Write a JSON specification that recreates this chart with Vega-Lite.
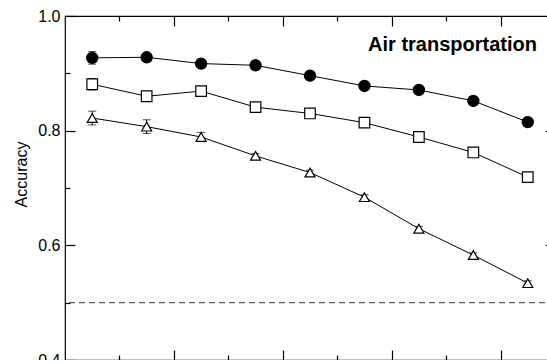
{
  "$schema": "https://vega.github.io/schema/vega-lite/v6.json",
  "width": 490,
  "height": 344,
  "autosize": {"type": "none"},
  "padding": {"left": 65, "top": 16, "right": 0, "bottom": 0},
  "background": "white",
  "config": {
    "font": "Liberation Sans",
    "view": {"stroke": "black", "strokeWidth": 1.2},
    "axis": {"grid": false, "domain": false, "tickColor": "black", "labelColor": "black", "titleColor": "black", "tickWidth": 1.2}
  },
  "datasets": {
    "pts": [
      {"i": 1, "s": "c", "acc": 0.927, "err": 0.011},
      {"i": 2, "s": "c", "acc": 0.928, "err": 0.004},
      {"i": 3, "s": "c", "acc": 0.917, "err": 0.003},
      {"i": 4, "s": "c", "acc": 0.914, "err": 0.003},
      {"i": 5, "s": "c", "acc": 0.896, "err": 0.003},
      {"i": 6, "s": "c", "acc": 0.878, "err": 0.003},
      {"i": 7, "s": "c", "acc": 0.871, "err": 0.003},
      {"i": 8, "s": "c", "acc": 0.852, "err": 0.003},
      {"i": 9, "s": "c", "acc": 0.815, "err": 0.003},
      {"i": 1, "s": "s", "acc": 0.881, "err": 0.010},
      {"i": 2, "s": "s", "acc": 0.860, "err": 0.004},
      {"i": 3, "s": "s", "acc": 0.869, "err": 0.004},
      {"i": 4, "s": "s", "acc": 0.841, "err": 0.003},
      {"i": 5, "s": "s", "acc": 0.830, "err": 0.003},
      {"i": 6, "s": "s", "acc": 0.814, "err": 0.003},
      {"i": 7, "s": "s", "acc": 0.789, "err": 0.003},
      {"i": 8, "s": "s", "acc": 0.762, "err": 0.003},
      {"i": 9, "s": "s", "acc": 0.719, "err": 0.003},
      {"i": 1, "s": "t", "acc": 0.822, "err": 0.012},
      {"i": 2, "s": "t", "acc": 0.807, "err": 0.012},
      {"i": 3, "s": "t", "acc": 0.789, "err": 0.008},
      {"i": 4, "s": "t", "acc": 0.756, "err": 0.004},
      {"i": 5, "s": "t", "acc": 0.727, "err": 0.004},
      {"i": 6, "s": "t", "acc": 0.684, "err": 0.004},
      {"i": 7, "s": "t", "acc": 0.629, "err": 0.004},
      {"i": 8, "s": "t", "acc": 0.583, "err": 0.004},
      {"i": 9, "s": "t", "acc": 0.534, "err": 0.004}
    ]
  },
  "resolve": {"axis": {"x": "independent", "y": "independent"}},
  "layer": [
    {
      "data": {"name": "pts"},
      "mark": {"type": "line", "color": "black", "strokeWidth": 1},
      "encoding": {
        "x": {"field": "i", "type": "quantitative", "scale": {"domain": [0.5, 9.5], "nice": false, "zero": false},
          "axis": {"orient": "bottom", "title": null, "labels": false, "values": [1.5, 2.5, 3.5, 4.5, 5.5, 6.5, 7.5, 8.5],
            "tickSize": {"condition": {"test": "abs((datum.value - 0.5) % 2) < 0.01", "value": -10}, "value": -5}}},
        "y": {"field": "acc", "type": "quantitative", "scale": {"domain": [0.4, 1.0], "nice": false, "zero": false},
          "axis": {"orient": "left", "title": "Accuracy", "values": [0.4, 0.5, 0.6, 0.7, 0.8, 0.9, 1.0],
            "labelExpr": "round(datum.value * 10) % 2 == 0 ? format(datum.value, '.1f') : ''",
            "labelFontSize": 16, "labelPadding": 15,
            "tickSize": {"condition": {"test": "round(datum.value * 10) % 2 == 0", "value": -10}, "value": -5},
            "titleFontSize": 16, "titleFontWeight": "normal", "titleAngle": -90, "titleX": -38.5, "titleY": 158, "titleAlign": "center", "titleBaseline": "alphabetic"}},
        "detail": {"field": "s"}
      }
    },
    {
      "data": {"name": "pts"},
      "mark": {"type": "rule", "color": "black", "strokeWidth": 1},
      "encoding": {
        "x": {"field": "i", "type": "quantitative",
          "axis": {"orient": "top", "title": null, "labels": false, "values": [1.5, 2.5, 3.5, 4.5, 5.5, 6.5, 7.5, 8.5],
            "tickSize": {"condition": {"test": "abs((datum.value - 0.5) % 2) < 0.01", "value": -10}, "value": -5}}},
        "y": {"field": "lo", "type": "quantitative",
          "axis": {"orient": "right", "title": null, "labels": false, "values": [0.5, 0.6, 0.7, 0.8, 0.9],
            "tickSize": {"condition": {"test": "round(datum.value * 10) % 2 == 0", "value": -10}, "value": -5}}},
        "y2": {"field": "hi"}
      },
      "transform": [{"calculate": "datum.acc - datum.err", "as": "lo"}, {"calculate": "datum.acc + datum.err", "as": "hi"}]
    },
    {
      "data": {"name": "pts"},
      "transform": [{"calculate": "datum.acc - datum.err", "as": "lo"}],
      "mark": {"type": "tick", "orient": "horizontal", "color": "black", "size": 8, "thickness": 1},
      "encoding": {
        "x": {"field": "i", "type": "quantitative", "axis": null},
        "y": {"field": "lo", "type": "quantitative", "axis": null}
      }
    },
    {
      "data": {"name": "pts"},
      "transform": [{"calculate": "datum.acc + datum.err", "as": "hi"}],
      "mark": {"type": "tick", "orient": "horizontal", "color": "black", "size": 8, "thickness": 1},
      "encoding": {
        "x": {"field": "i", "type": "quantitative", "axis": null},
        "y": {"field": "hi", "type": "quantitative", "axis": null}
      }
    },
    {
      "data": {"name": "pts"},
      "mark": {"type": "point", "filled": false, "strokeWidth": 1.2, "opacity": 1, "stroke": "black"},
      "encoding": {
        "x": {"field": "i", "type": "quantitative", "axis": null},
        "y": {"field": "acc", "type": "quantitative", "axis": null},
        "shape": {"field": "s", "type": "nominal", "scale": {"domain": ["c", "s", "t"], "range": ["circle", "square", "triangle-up"]}, "legend": null},
        "fill": {"field": "s", "type": "nominal", "scale": {"domain": ["c", "s", "t"], "range": ["black", "white", "white"]}, "legend": null},
        "size": {"field": "s", "type": "nominal", "scale": {"domain": ["c", "s", "t"], "range": [125, 100, 145]}, "legend": null}
      }
    },
    {
      "data": {"values": [{"v": 0.5}]},
      "mark": {"type": "rule", "color": "#333333", "strokeWidth": 1, "strokeDash": [6, 4]},
      "encoding": {"y": {"field": "v", "type": "quantitative", "axis": null}}
    },
    {
      "data": {"values": [{"label": "Air transportation"}]},
      "mark": {"type": "text", "align": "right", "baseline": "alphabetic", "fontSize": 20, "fontWeight": "bold", "font": "Liberation Sans", "color": "black"},
      "encoding": {
        "x": {"datum": 9.169, "type": "quantitative", "axis": null},
        "y": {"datum": 0.9395, "type": "quantitative", "axis": null},
        "text": {"field": "label"}
      }
    }
  ]
}
